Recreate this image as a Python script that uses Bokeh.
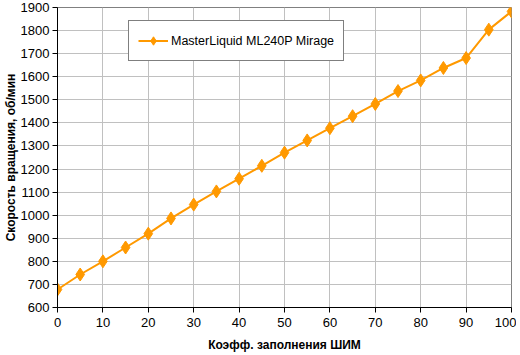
from bokeh.plotting import figure
from bokeh.models import Legend, LegendItem, FixedTicker
from bokeh.embed import file_html
from bokeh.resources import INLINE

pwm = [0, 5, 10, 15, 20, 25, 30, 35, 40, 45, 50, 55, 60, 65, 70, 75, 80, 85, 90, 95, 100]
rpm = [678, 743, 800, 860, 920, 986, 1046, 1103, 1158, 1214, 1271, 1324, 1377, 1429,
       1482, 1538, 1584, 1638, 1681, 1804, 1883]
x_ticks = [0, 10, 20, 30, 40, 50, 60, 70, 80, 90, 100]
y_ticks = list(range(600, 2000, 100))
series_name = "MasterLiquid ML240P Mirage"
x_title = "Коэфф. заполнения ШИМ"
y_title = "Скорость вращения, об/мин"

FONT = "Liberation Sans"
ORANGE = "#FF9900"

p = figure(width=516, height=354, output_backend="svg", toolbar_location=None,
           x_range=(0, 100), y_range=(600, 1900),
           min_border_left=0, min_border_right=5, min_border_top=7, min_border_bottom=0)

p.background_fill_color = "white"
p.border_fill_color = "white"
p.outline_line_color = "#808080"
p.outline_line_width = 1

for ax in (p.xaxis[0], p.yaxis[0]):
    ax.axis_line_color = "black"
    ax.major_tick_line_color = "black"
    ax.minor_tick_line_color = None
    ax.major_tick_in = 0
    ax.major_tick_out = 5
    ax.major_label_text_font = FONT
    ax.major_label_text_font_size = "13px"
    ax.major_label_text_color = "black"
    ax.axis_label_text_font = FONT
    ax.axis_label_text_font_size = "12px"
    ax.axis_label_text_font_style = "bold"
    ax.axis_label_text_color = "black"
    ax.major_label_standoff = 3
    ax.axis_label_standoff = 0

p.xaxis[0].ticker = FixedTicker(ticks=x_ticks)
p.yaxis[0].ticker = FixedTicker(ticks=y_ticks)
p.xaxis[0].axis_label = x_title
p.yaxis[0].axis_label = y_title
p.xaxis[0].major_label_standoff = 5
p.xaxis[0].axis_label_standoff = 8

p.xgrid[0].ticker = FixedTicker(ticks=x_ticks)
p.ygrid[0].ticker = FixedTicker(ticks=y_ticks)
p.xgrid.grid_line_color = "#C0C0C0"
p.ygrid.grid_line_color = "#C0C0C0"
p.xgrid.grid_line_width = 1
p.ygrid.grid_line_width = 1

ln = p.line(pwm, rpm, line_color=ORANGE, line_width=2)
mk = p.scatter(pwm, rpm, marker="diamond", size=13, fill_color=ORANGE, line_color=ORANGE)

legend = Legend(items=[LegendItem(label=series_name, renderers=[ln, mk])],
                location=(71, 246))
legend.label_text_font = FONT
legend.label_text_font_size = "12.5px"
legend.label_text_color = "black"
legend.border_line_color = "black"
legend.border_line_width = 1
legend.background_fill_color = "white"
legend.background_fill_alpha = 1
legend.padding = 9
legend.margin = 0
legend.glyph_width = 30
legend.glyph_height = 21
legend.label_standoff = 3
legend.label_height = 21
p.add_layout(legend, "center")

open("out.html", "w").write(file_html(p, INLINE))
